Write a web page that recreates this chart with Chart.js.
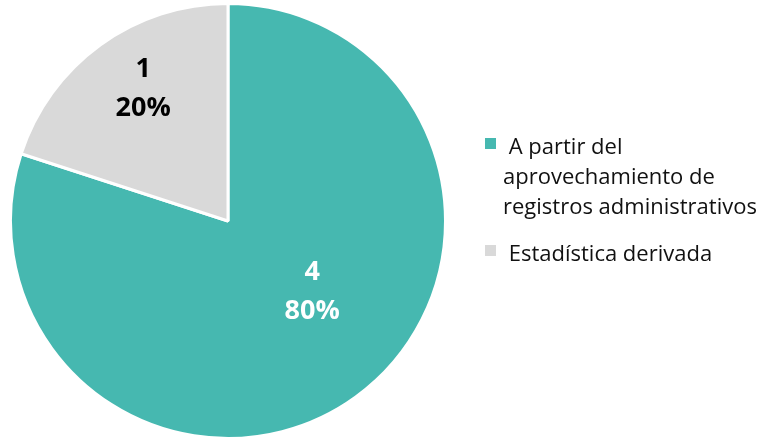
<!DOCTYPE html>
<html>
<head>
<meta charset="utf-8">
<script src="https://cdn.jsdelivr.net/npm/chart.js@4.4.1/dist/chart.umd.min.js"></script>
<style>
  html, body { margin: 0; padding: 0; background: #fff; }
  #wrap { width: 767px; height: 440px; }
</style>
</head>
<body>
<div id="wrap"><canvas id="myChart"></canvas></div>
<script>
// Datos del gráfico
const categorias = ['A partir del aprovechamiento de registros administrativos', 'Estadística derivada'];
const leyenda = [[' A partir del', 'aprovechamiento de', 'registros administrativos'], [' Estadística derivada']];
const valores = [4, 1];
const porcentajes = ['80%', '20%'];
const colores = ['#46B8B0', '#D9D9D9'];
const coloresEtiqueta = ['#ffffff', '#000000'];

const FUENTE = "'Open Sans', 'Segoe UI', 'DejaVu Sans', sans-serif";

// etiquetas dentro de las porciones (valor y porcentaje)
const etiquetasPlugin = {
    id: 'etiquetas',
    afterDatasetsDraw(chart) {
        const ctx = chart.ctx;
        const meta = chart.getDatasetMeta(0);
        // ajuste de posición tipo "mejor ajuste": fracción del radio y giro en grados
        const ajuste = [{ r: 0.505, giro: -14 }, { r: 0.726, giro: 3.5 }];
        meta.data.forEach((arc, i) => {
            const p = arc.getProps(['x', 'y', 'startAngle', 'endAngle', 'outerRadius'], true);
            const ang = (p.startAngle + p.endAngle) / 2 + ajuste[i].giro * Math.PI / 180;
            const rr = p.outerRadius * ajuste[i].r;
            const cx = p.x + Math.cos(ang) * rr;
            const cy = p.y + Math.sin(ang) * rr;
            ctx.save();
            ctx.fillStyle = coloresEtiqueta[i];
            ctx.font = 'bold 27px ' + FUENTE;
            ctx.textAlign = 'center';
            ctx.textBaseline = 'middle';
            ctx.fillText(String(valores[i]), cx, cy - 19);
            ctx.fillText(porcentajes[i], cx, cy + 20);
            ctx.restore();
        });
    }
};

// leyenda a la derecha con texto en varias líneas
const leyendaPlugin = {
    id: 'leyendaDerecha',
    afterDraw(chart) {
        const ctx = chart.ctx;
        const area = chart.chartArea;
        const xCaja = area.right + 37;
        const xTexto = area.right + 55;
        const alto = 30;
        let base = 154;
        ctx.save();
        ctx.font = '22px ' + FUENTE;
        ctx.textBaseline = 'alphabetic';
        ctx.textAlign = 'left';
        leyenda.forEach((lineas, i) => {
            ctx.fillStyle = colores[i];
            ctx.fillRect(xCaja, base - 16, 11, 11);
            ctx.fillStyle = '#111111';
            lineas.forEach((t, j) => {
                ctx.fillText(t, xTexto, base + j * alto);
            });
            base += lineas.length * alto + 17;
        });
        ctx.restore();
    }
};

const ctx = document.getElementById('myChart').getContext('2d');
const myChart = new Chart(ctx, {
    type: 'pie',
    data: {
        labels: categorias,
        datasets: [{
            data: valores,
            backgroundColor: colores,
            borderColor: '#ffffff',
            borderWidth: 3
        }]
    },
    options: {
        responsive: true,
        maintainAspectRatio: false,
        animation: false,
        layout: { padding: { left: 8, right: 319, top: 2, bottom: 0 } },
        plugins: {
            legend: { display: false },
            tooltip: { enabled: false }
        }
    },
    plugins: [etiquetasPlugin, leyendaPlugin]
});
</script>
</body>
</html>
